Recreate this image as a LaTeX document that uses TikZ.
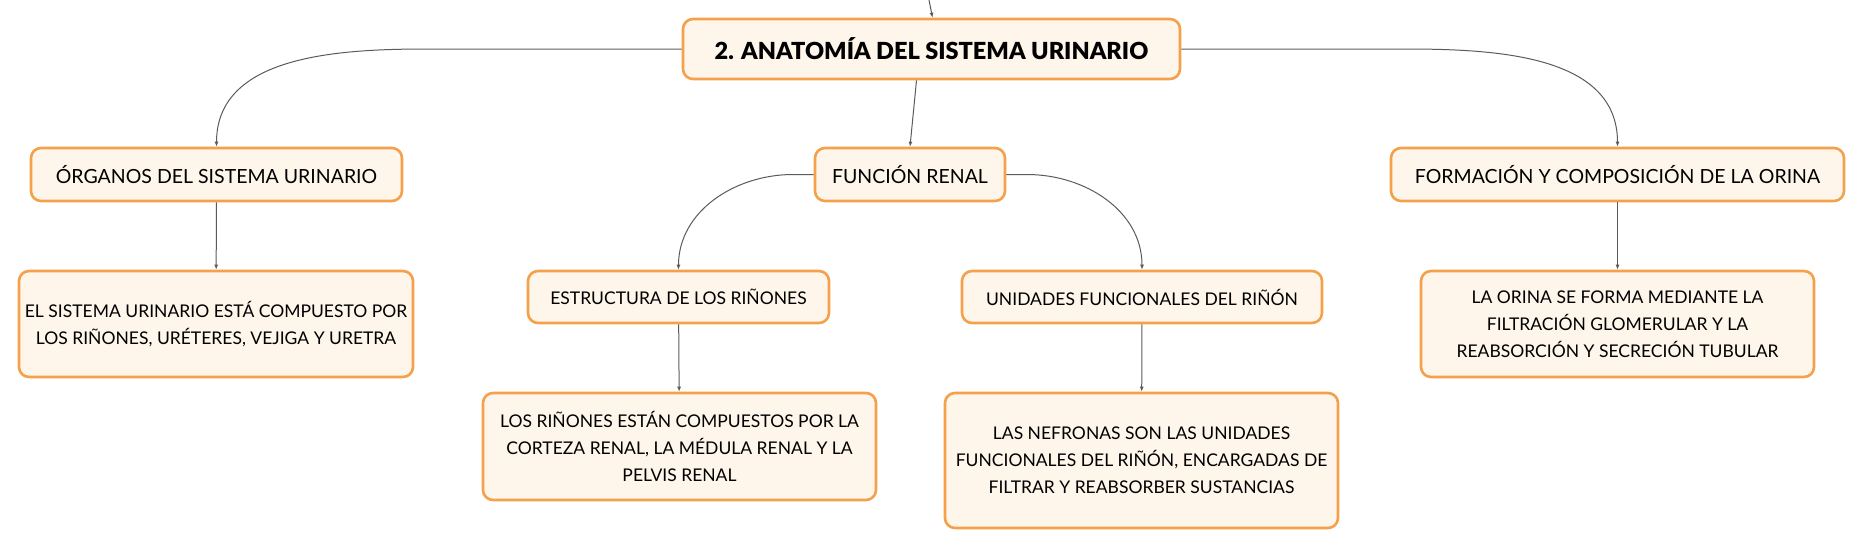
\documentclass[tikz,border=0pt]{standalone}
\usepackage{fontspec}
\setmainfont{Lato}
\newfontfamily\heavyfont{Lato Black}
\usetikzlibrary{arrows.meta}

\definecolor{boxfill}{HTML}{FEF5EB}
\definecolor{boxline}{HTML}{F5A04A}
\definecolor{linkgray}{HTML}{5A5A5A}

\tikzstyle{topic}=[draw=boxline, fill=boxfill, line width=2.6pt, rounded corners=10pt, align=center, text=black, inner sep=0pt]
\tikzstyle{main}=[topic, font=\fontsize{23.5}{28}\heavyfont]
\tikzstyle{sub}=[topic, font=\fontsize{19.5}{24}\selectfont]
\tikzstyle{subsub}=[topic, font=\fontsize{17.5}{24}\selectfont]
\tikzstyle{leaf}=[topic, font=\fontsize{17.5}{27}\selectfont]
\tikzstyle{link}=[-{Latex[length=5pt,width=4pt]}, draw=linkgray, line width=1pt]

\begin{document}
\begin{tikzpicture}[x=1pt, y=1pt]
  \useasboundingbox (0,0) rectangle (1865,-549);

  \node[main, minimum width=497, minimum height=60] (root) at (931.5,-49) {2. ANATOMÍA DEL SISTEMA URINARIO};

  \node[sub, minimum width=371, minimum height=53] (org) at (216.5,-174.5) {ÓRGANOS DEL SISTEMA URINARIO};
  \node[sub, minimum width=190, minimum height=53] (fun) at (910,-174.5) {FUNCIÓN RENAL};
  \node[sub, minimum width=453, minimum height=53] (form) at (1617.5,-174.5) {FORMACIÓN Y COMPOSICIÓN DE LA ORINA};

  \node[subsub, minimum width=301, minimum height=52] (est) at (678.5,-297) {ESTRUCTURA DE LOS RIÑONES};
  \node[subsub, minimum width=360, minimum height=52] (uni) at (1142,-297) {UNIDADES FUNCIONALES DEL RIÑÓN};

  \node[leaf, minimum width=394, minimum height=106] (orgtxt) at (216,-324)
    {EL SISTEMA URINARIO ESTÁ COMPUESTO POR\\LOS RIÑONES, URÉTERES, VEJIGA Y URETRA};
  \node[leaf, minimum width=393, minimum height=107] (esttxt) at (679.5,-446.5)
    {LOS RIÑONES ESTÁN COMPUESTOS POR LA\\CORTEZA RENAL, LA MÉDULA RENAL Y LA\\PELVIS RENAL};
  \node[leaf, minimum width=393, minimum height=135] (unitxt) at (1141.5,-460.5)
    {LAS NEFRONAS SON LAS UNIDADES\\FUNCIONALES DEL RIÑÓN, ENCARGADAS DE\\FILTRAR Y REABSORBER SUSTANCIAS};
  \node[leaf, minimum width=393, minimum height=106] (formtxt) at (1617.5,-324)
    {LA ORINA SE FORMA MEDIANTE LA\\FILTRACIÓN GLOMERULAR Y LA\\REABSORCIÓN Y SECRECIÓN TUBULAR};

  % incoming link from the parent map
  \coordinate (up) at (929,0);
  \draw[link] (up) -- ([xshift=1pt]root.north);

  % branches of the main topic
  \coordinate (lbend) at (428,-49);
  \coordinate (rbend) at (1404,-49);
  \draw[link] (root.west) -- (lbend) to[out=180, in=90] (org.north);
  \draw[link] (root.east) -- (rbend) to[out=0, in=90] (form.north);
  \draw[link] ([xshift=-15pt]root.south) -- (fun.north);

  \coordinate (fbendl) at (793,-174.5);
  \coordinate (fbendr) at (1027,-174.5);
  \draw[link] (fun.west) -- (fbendl) to[out=180, in=90] (est.north);
  \draw[link] (fun.east) -- (fbendr) to[out=0, in=90] (uni.north);

  \foreach \a/\b in {org/orgtxt, est/esttxt, uni/unitxt, form/formtxt} {%
    \draw[link] (\a) -- (\b);
  }
\end{tikzpicture}
\end{document}
